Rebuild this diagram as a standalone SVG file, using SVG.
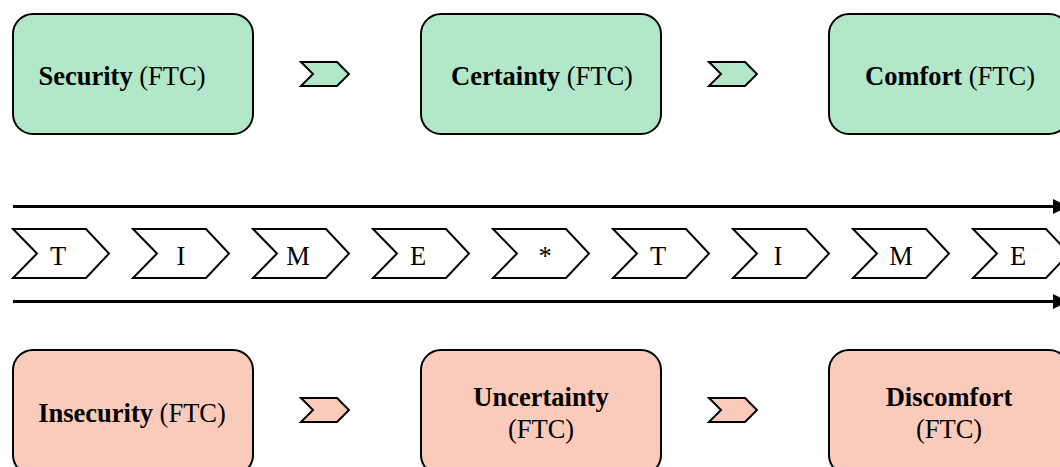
<svg xmlns="http://www.w3.org/2000/svg" width="1060" height="467" viewBox="0 0 1060 467">
<defs>
<style>
.box{stroke:#000;stroke-width:2}
.g{fill:#b1e8c9}
.r{fill:#facabb}
.ch{stroke:#000;stroke-width:2;stroke-linejoin:miter}
.t{font-family:"Liberation Serif","Times New Roman",serif;font-size:26.5px;fill:#000;text-anchor:middle}
.b{font-weight:bold}
.line{stroke:#000;stroke-width:3;fill:none}
</style>
<polygon id="small" points="0,0 36,0 48,12 36,24 0,24 12,12"/>
<polygon id="big" points="0,0 73,0 96,24.5 73,49 0,49 24,24.5"/>
</defs>
<rect width="1060" height="467" fill="#fff"/>
<g id="connectors">
<line class="line" x1="13" y1="206.5" x2="1056" y2="206.5"/>
<polygon points="1053,199 1068,206.5 1053,214" fill="#000"/>
<line class="line" x1="13" y1="301.5" x2="1056" y2="301.5"/>
<polygon points="1053,294 1068,301.5 1053,309" fill="#000"/>
<use href="#small" x="301" y="62" class="ch g"/>
<use href="#small" x="709" y="62" class="ch g"/>
<use href="#small" x="301" y="398" class="ch r"/>
<use href="#small" x="709" y="398" class="ch r"/>
</g>
<g id="security"><rect class="box g" x="13" y="14" width="240" height="120" rx="20"/><text class="t" x="122" y="85"><tspan class="b">Security</tspan> (FTC)</text></g>
<g id="certainty"><rect class="box g" x="421" y="14" width="240" height="120" rx="20"/><text class="t" x="542" y="85"><tspan class="b">Certainty</tspan> (FTC)</text></g>
<g id="comfort"><rect class="box g" x="829" y="14" width="240" height="120" rx="20"/><text class="t" x="950" y="85"><tspan class="b">Comfort</tspan> (FTC)</text></g>
<g id="insecurity"><rect class="box r" x="13" y="350" width="240" height="125" rx="20"/><text class="t" x="132" y="422"><tspan class="b">Insecurity</tspan> (FTC)</text></g>
<g id="uncertainty"><rect class="box r" x="421" y="350" width="240" height="125" rx="20"/><text class="t b" x="541" y="406">Uncertainty</text><text class="t" x="541" y="438">(FTC)</text></g>
<g id="discomfort"><rect class="box r" x="829" y="350" width="240" height="125" rx="20"/><text class="t b" x="949" y="406">Discomfort</text><text class="t" x="949" y="438">(FTC)</text></g>
<g id="time">
<g id="c1"><use href="#big" x="13" y="229" class="ch" fill="#fff"/><text class="t" x="58" y="265">T</text></g>
<g id="c2"><use href="#big" x="133" y="229" class="ch" fill="#fff"/><text class="t" x="181" y="265">I</text></g>
<g id="c3"><use href="#big" x="253" y="229" class="ch" fill="#fff"/><text class="t" x="298" y="265">M</text></g>
<g id="c4"><use href="#big" x="373" y="229" class="ch" fill="#fff"/><text class="t" x="418" y="265">E</text></g>
<g id="c5"><use href="#big" x="493" y="229" class="ch" fill="#fff"/><text class="t" x="545" y="265">*</text></g>
<g id="c6"><use href="#big" x="613" y="229" class="ch" fill="#fff"/><text class="t" x="658" y="265">T</text></g>
<g id="c7"><use href="#big" x="733" y="229" class="ch" fill="#fff"/><text class="t" x="778" y="265">I</text></g>
<g id="c8"><use href="#big" x="853" y="229" class="ch" fill="#fff"/><text class="t" x="901" y="265">M</text></g>
<g id="c9"><use href="#big" x="973" y="229" class="ch" fill="#fff"/><text class="t" x="1018" y="265">E</text></g>
</g>
</svg>
